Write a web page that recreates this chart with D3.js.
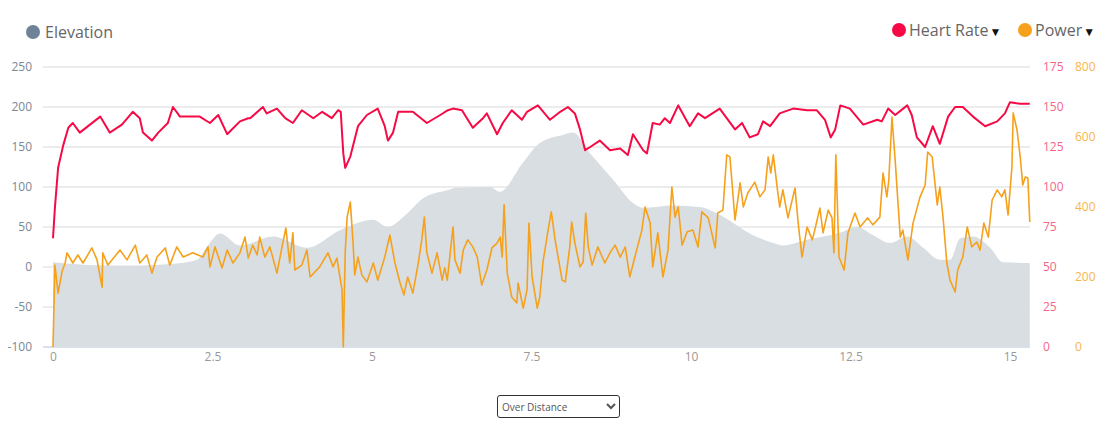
<!DOCTYPE html>
<html lang="en">
<head>
    <meta charset="UTF-8">
    <title>Elevation / Heart Rate / Power</title>
    <script src="https://d3js.org/d3.v7.min.js"></script>
    <style>
        body {
            margin: 0;
            font-family: "Open Sans", sans-serif;
            background: #fff;
        }
        #chart {
            position: relative;
            width: 1112px;
            height: 431px;
        }
        #mode {
            position: absolute;
            left: 497px;
            top: 395px;
            width: 123px;
            height: 23px;
            font-family: "Open Sans", sans-serif;
            font-size: 10px;
            color: #555;
            border: 1px solid #333;
            border-radius: 3px;
            background: #fff;
        }
    </style>
</head>
<body>
    <div id="chart">
        <select id="mode"><option>Over Distance</option></select>
    </div>

    <script>
        // elevation (left axis)
        const elevDist = [0, 0.85, 1.36, 1.88, 2.26, 2.41, 2.62, 2.93, 3.45, 3.98, 4.5, 5.02, 5.24, 5.55, 5.8, 6.18, 6.33, 6.85, 7.0, 7.37, 7.63, 7.99, 8.15, 8.42, 8.78, 9.09, 9.25, 9.72, 10.14, 10.5, 10.92, 11.29, 11.44, 11.82, 12.34, 12.6, 12.85, 13.12, 13.39, 13.64, 13.9, 14.06, 14.22, 14.42, 14.69, 14.89, 15.31];
        const elevValues = [6, 2, 2, 4, 9, 25, 42, 27, 38, 24, 46, 59, 50, 67, 86, 96, 99, 100, 94, 131, 155, 165, 168, 142, 109, 80, 74, 77, 75, 63, 42, 30, 27, 34, 43, 50, 40, 30, 38, 24, 9, 9, 36, 38, 24, 6, 5];

        // heart rate (bpm)
        const hrDist = [0, 0.03, 0.08, 0.16, 0.24, 0.31, 0.42, 0.58, 0.74, 0.89, 1.08, 1.25, 1.36, 1.41, 1.55, 1.65, 1.80, 1.88, 1.99, 2.30, 2.46, 2.59, 2.73, 2.93, 3.06, 3.09, 3.29, 3.35, 3.51, 3.64, 3.76, 3.90, 4.08, 4.22, 4.37, 4.47, 4.51, 4.55, 4.58, 4.66, 4.78, 4.92, 5.09, 5.20, 5.25, 5.33, 5.41, 5.64, 5.86, 6.07, 6.19, 6.27, 6.41, 6.58, 6.74, 6.80, 6.96, 7.05, 7.19, 7.35, 7.43, 7.60, 7.79, 7.95, 8.07, 8.18, 8.26, 8.34, 8.42, 8.57, 8.73, 8.89, 9.01, 9.09, 9.25, 9.31, 9.40, 9.51, 9.59, 9.67, 9.80, 9.98, 10.11, 10.22, 10.45, 10.69, 10.80, 10.92, 11.05, 11.13, 11.24, 11.39, 11.60, 11.82, 11.97, 12.10, 12.19, 12.26, 12.34, 12.49, 12.70, 12.92, 12.99, 13.09, 13.20, 13.39, 13.46, 13.54, 13.67, 13.79, 13.90, 14.03, 14.14, 14.26, 14.42, 14.61, 14.80, 14.92, 15.00, 15.16, 15.31];
        const hrValues = [68, 87, 112, 126, 137, 140, 134, 139, 144, 134, 139, 147, 143, 134, 129, 134, 140, 150, 144, 144, 140, 145, 133, 141, 143, 143, 150, 146, 149, 143, 140, 148, 143, 147, 143, 148, 147, 121, 112, 119, 138, 145, 149, 138, 129, 134, 147, 147, 140, 145, 148, 149, 148, 137, 143, 146, 133, 140, 148, 142, 147, 151, 142, 147, 150, 146, 136, 123, 125, 129, 123, 124, 120, 133, 123, 121, 140, 139, 143, 140, 151, 138, 146, 143, 149, 136, 140, 131, 133, 141, 138, 146, 149, 148, 148, 142, 131, 136, 151, 149, 139, 142, 141, 149, 145, 151, 145, 131, 125, 138, 127, 144, 150, 150, 144, 138, 141, 146, 153, 152, 152];

        // power (W)
        const powerDist = [0, 0.03, 0.08, 0.14, 0.19, 0.22, 0.31, 0.39, 0.47, 0.61, 0.69, 0.77, 0.78, 0.86, 1.05, 1.16, 1.29, 1.36, 1.47, 1.55, 1.63, 1.76, 1.83, 1.94, 2.04, 2.19, 2.35, 2.43, 2.46, 2.54, 2.65, 2.73, 2.82, 2.93, 3.01, 3.06, 3.13, 3.20, 3.24, 3.32, 3.40, 3.51, 3.59, 3.65, 3.71, 3.76, 3.79, 3.90, 3.98, 4.03, 4.18, 4.31, 4.39, 4.45, 4.53, 4.55, 4.58, 4.61, 4.66, 4.70, 4.73, 4.78, 4.84, 4.92, 5.02, 5.09, 5.20, 5.28, 5.36, 5.44, 5.50, 5.56, 5.64, 5.72, 5.78, 5.82, 5.86, 5.94, 6.02, 6.10, 6.14, 6.18, 6.27, 6.30, 6.38, 6.43, 6.50, 6.58, 6.65, 6.72, 6.80, 6.88, 6.96, 7.01, 7.04, 7.07, 7.12, 7.19, 7.27, 7.29, 7.37, 7.43, 7.46, 7.51, 7.59, 7.63, 7.68, 7.76, 7.81, 7.87, 7.98, 8.03, 8.10, 8.13, 8.18, 8.26, 8.31, 8.35, 8.39, 8.45, 8.54, 8.65, 8.73, 8.81, 8.89, 8.97, 9.04, 9.12, 9.23, 9.28, 9.36, 9.40, 9.48, 9.56, 9.64, 9.70, 9.75, 9.80, 9.86, 9.94, 10.03, 10.11, 10.17, 10.27, 10.38, 10.42, 10.50, 10.56, 10.61, 10.69, 10.77, 10.82, 10.89, 11.00, 11.08, 11.16, 11.21, 11.25, 11.29, 11.35, 11.39, 11.44, 11.52, 11.63, 11.68, 11.74, 11.82, 11.90, 11.94, 12.02, 12.07, 12.15, 12.21, 12.24, 12.27, 12.32, 12.40, 12.46, 12.57, 12.65, 12.77, 12.85, 12.96, 13.01, 13.07, 13.10, 13.15, 13.20, 13.28, 13.32, 13.40, 13.48, 13.59, 13.67, 13.71, 13.78, 13.86, 13.90, 13.95, 14.01, 14.06, 14.14, 14.18, 14.26, 14.33, 14.40, 14.48, 14.53, 14.59, 14.66, 14.72, 14.80, 14.87, 14.92, 14.97, 15.03, 15.05, 15.11, 15.16, 15.20, 15.24, 15.28, 15.31];
        const powerValues = [0, 234, 154, 214, 240, 269, 240, 263, 240, 283, 249, 171, 269, 234, 277, 249, 291, 240, 263, 211, 257, 283, 234, 286, 257, 269, 257, 286, 229, 286, 226, 277, 240, 269, 314, 254, 291, 263, 314, 257, 286, 211, 286, 340, 240, 326, 220, 234, 277, 200, 229, 269, 229, 254, 163, 0, 269, 371, 414, 306, 206, 257, 206, 186, 240, 191, 257, 320, 240, 183, 149, 200, 154, 234, 306, 371, 269, 211, 269, 191, 226, 191, 343, 249, 211, 277, 306, 286, 257, 177, 220, 283, 297, 314, 257, 406, 211, 143, 126, 183, 111, 163, 354, 200, 111, 143, 243, 334, 386, 306, 191, 186, 286, 357, 297, 229, 243, 383, 286, 234, 286, 240, 269, 291, 257, 286, 200, 257, 334, 400, 354, 229, 326, 200, 277, 457, 371, 400, 291, 329, 334, 286, 386, 369, 283, 383, 391, 549, 543, 363, 469, 400, 440, 471, 429, 449, 543, 497, 549, 457, 400, 449, 369, 454, 354, 257, 343, 306, 334, 397, 326, 391, 369, 269, 549, 257, 220, 326, 383, 343, 369, 349, 371, 497, 429, 477, 657, 534, 314, 334, 249, 354, 429, 463, 557, 543, 406, 457, 371, 240, 191, 157, 220, 257, 343, 286, 300, 277, 354, 314, 420, 449, 429, 449, 377, 514, 669, 620, 543, 463, 486, 483, 357];

        const xTicks = [0, 2.5, 5, 7.5, 10, 12.5, 15];
        const elevTicks = [-100, -50, 0, 50, 100, 150, 200, 250];
        const hrTicks = [0, 25, 50, 75, 100, 125, 150, 175];
        const powerTicks = [0, 200, 400, 600, 800];

        const width = 1112, height = 431;
        const plotLeft = 43, plotRight = 1030, plotTop = 67, plotBottom = 347;

        const svg = d3.select("#chart")
            .insert("svg", "#mode")
            .attr("width", width)
            .attr("height", height);

        const x = d3.scaleLinear().domain([0, 15]).range([53, 1010]);
        const yElev = d3.scaleLinear().domain([-100, 250]).range([plotBottom, plotTop]);
        const yHr = d3.scaleLinear().domain([0, 175]).range([plotBottom, plotTop]);
        const yPow = d3.scaleLinear().domain([0, 800]).range([plotBottom, plotTop]);

        // grid lines
        svg.append("g")
            .selectAll("line")
            .data(elevTicks)
            .enter()
            .append("line")
            .attr("x1", plotLeft)
            .attr("x2", plotRight)
            .attr("y1", d => yElev(d))
            .attr("y2", d => yElev(d))
            .attr("stroke", d => d === -100 ? "#ccd6eb" : "#e6e6e6")
            .attr("stroke-width", 1.5);

        // elevation area
        const elev = elevDist.map((d, i) => [d, elevValues[i]]);
        svg.append("path")
            .datum(elev)
            .attr("fill", "#d9dee3")
            .attr("d", d3.area()
                .curve(d3.curveMonotoneX)
                .x(d => x(d[0]))
                .y0(plotBottom)
                .y1(d => yElev(d[1])));

        // power line
        const power = powerDist.map((d, i) => [d, powerValues[i]]);
        svg.append("path")
            .datum(power)
            .attr("fill", "none")
            .attr("stroke", "#f5a11c")
            .attr("stroke-width", 1.6)
            .attr("stroke-linejoin", "round")
            .attr("d", d3.line().x(d => x(d[0])).y(d => yPow(d[1])));

        // heart rate line
        const hr = hrDist.map((d, i) => [d, hrValues[i]]);
        svg.append("path")
            .datum(hr)
            .attr("fill", "none")
            .attr("stroke", "#f50a45")
            .attr("stroke-width", 2)
            .attr("stroke-linejoin", "round")
            .attr("d", d3.line().x(d => x(d[0])).y(d => yHr(d[1])));

        // axes
        const leftAxis = svg.append("g")
            .attr("transform", `translate(32,0)`)
            .call(d3.axisLeft(yElev).tickValues(elevTicks).tickSize(0).tickPadding(0).tickFormat(d => String(d)));
        leftAxis.select(".domain").remove();
        leftAxis.selectAll("text").attr("fill", "#7a8896").style("font-size", "12px").style("font-family", "Open Sans");

        const hrAxis = svg.append("g")
            .attr("transform", `translate(1043,0)`)
            .call(d3.axisRight(yHr).tickValues(hrTicks).tickSize(0).tickPadding(0));
        hrAxis.select(".domain").remove();
        hrAxis.selectAll("text").attr("fill", "#f7638a").style("font-size", "12px").style("font-family", "Open Sans");

        const powAxis = svg.append("g")
            .attr("transform", `translate(1075,0)`)
            .call(d3.axisRight(yPow).tickValues(powerTicks).tickSize(0).tickPadding(0));
        powAxis.select(".domain").remove();
        powAxis.selectAll("text").attr("fill", "#f7b64a").style("font-size", "12px").style("font-family", "Open Sans");

        const xAxis = svg.append("g")
            .attr("transform", `translate(0,352)`)
            .call(d3.axisBottom(x).tickValues(xTicks).tickSize(0).tickPadding(0).tickFormat(d => String(d)));
        xAxis.select(".domain").remove();
        xAxis.selectAll("text").attr("fill", "#999").style("font-size", "12px").style("font-family", "Open Sans");

        // legends
        const legend = [
            { label: "Elevation", color: "#6e8396", cx: 33, cy: 32, tx: 45, arrow: false },
            { label: "Heart Rate", color: "#f50a45", cx: 899, cy: 30, tx: 909, arrow: true },
            { label: "Power", color: "#f5a11c", cx: 1025, cy: 30, tx: 1035, arrow: true }
        ];
        const lg = svg.append("g")
            .selectAll("g")
            .data(legend)
            .enter()
            .append("g");
        lg.append("circle")
            .attr("cx", d => d.cx)
            .attr("cy", d => d.cy)
            .attr("r", 7)
            .attr("fill", d => d.color);
        const lt = lg.append("text")
            .attr("x", d => d.tx)
            .attr("y", d => d.cy + 6)
            .attr("fill", "#666")
            .style("font-size", "16px")
            .style("font-family", "Open Sans");
        lt.append("tspan").text(d => d.label);
        lt.filter(d => d.arrow)
            .append("tspan")
            .attr("dx", 1)
            .attr("fill", "#111")
            .style("font-size", "12px")
            .text("\u25BC");
    </script>
</body>
</html>
